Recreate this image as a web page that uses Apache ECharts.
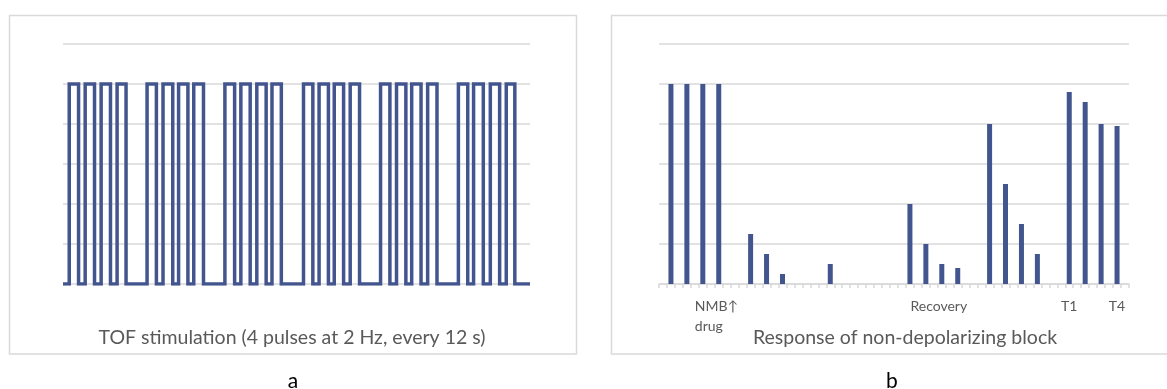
<!DOCTYPE html>
<html>
<head>
<meta charset="utf-8">
<script src="https://cdn.jsdelivr.net/npm/echarts@6/dist/echarts.min.js"></script>
<style>
  html, body { margin: 0; padding: 0; background: #fff; }
  #chart { width: 1167px; height: 389px; }
</style>
</head>
<body>
<div id="chart"></div>
<script>
// Panel a: train-of-four stimulation, rising and falling edge times of each pulse
const pulseRise = [0.8, 2.85, 4.9, 6.95,
                   10.8, 12.85, 14.85, 16.8,
                   20.8, 22.85, 24.9, 26.85,
                   30.9, 32.9, 34.85, 36.9,
                   40.8, 42.85, 44.8, 46.85,
                   50.8, 52.75, 54.9, 56.95];
const pulseFall = [2.0, 4.05, 6.1, 8.1,
                   12.0, 14.1, 16.05, 18.05,
                   22.05, 24.05, 26.1, 28.05,
                   32.1, 34.1, 36.05, 38.1,
                   42.0, 44.05, 46.0, 48.05,
                   52.0, 54.0, 56.1, 58.05];
const stimLevel = 100;
const timeRange = [0, 60];

// Panel b: twitch height (% of control) in each time slot
const twitch = [
  null, 100, null, 100, null, 100, null, 100,
  null, null, null, 25, null, 15, null, 5,
  null, null, null, null, null, 10, null, null,
  null, null, null, null, null, null, null, 40,
  null, 20, null, 10, null, 8, null, null,
  null, 80, null, 50, null, 30, null, 15,
  null, null, null, 96, null, 91, null, 80,
  null, 79, null
];
// Slot labels shown under the axis
const slotLabels = { 4: 'NMB\u2191\ndrug', 35: 'Recovery', 51: 'T1', 57: 'T4' };

const panelTitles = ['TOF stimulation (4 pulses at 2 Hz, every 12 s)', 'Response of non-depolarizing block'];
const panelLetters = ['a', 'b'];

const BLUE = '#43558E';
const GRID = '#D9D9D9';
const TEXT = '#595959';
const FONT = 'Lato, "Open Sans", sans-serif';

// Step waveform from the pulse edges
const wave = [[timeRange[0], 0]];
for (let i = 0; i < pulseRise.length; i++) {
  wave.push([pulseRise[i], 0], [pulseRise[i], stimLevel], [pulseFall[i], stimLevel], [pulseFall[i], 0]);
}
wave.push([timeRange[1], 0]);

const categories = twitch.map((_, i) => {
  const label = slotLabels[i];
  if (label === undefined) return '';
  if (i === 4) return { value: label, textStyle: { align: 'left' } };
  if (i === 35) return { value: label, textStyle: { padding: [0, 6, 0, 0] } };
  return label;
});

const chart = echarts.init(document.getElementById('chart'), null, { renderer: 'canvas' });

chart.setOption({
  animation: false,
  backgroundColor: '#fff',
  grid: [
    { left: 63, top: 44, width: 467, height: 240, containLabel: false },
    { left: 659, top: 44, width: 470, height: 240, containLabel: false }
  ],
  xAxis: [
    {
      gridIndex: 0, type: 'value', min: timeRange[0], max: timeRange[1],
      axisLine: { show: false }, axisTick: { show: false }, axisLabel: { show: false },
      splitLine: { show: false }
    },
    {
      gridIndex: 1, type: 'category', data: categories, boundaryGap: true,
      axisLine: { show: true, lineStyle: { color: GRID, width: 1.5 } },
      axisTick: { show: true, interval: 0, length: 4, lineStyle: { color: GRID, width: 1.5 } },
      axisLabel: {
        interval: 0, color: TEXT, fontFamily: FONT, fontSize: 14, lineHeight: 20, margin: 12
      },
      splitLine: { show: false }
    }
  ],
  yAxis: [0, 1].map(g => ({
    gridIndex: g, type: 'value', min: 0, max: 120, interval: 20,
    axisLine: { show: false }, axisTick: { show: false }, axisLabel: { show: false },
    splitLine: { show: true, lineStyle: { color: GRID, width: 1.5 } }
  })),
  series: [
    {
      type: 'line', xAxisIndex: 0, yAxisIndex: 0, data: wave,
      showSymbol: false, symbol: 'none',
      lineStyle: { color: BLUE, width: 3.5, join: 'miter' }
    },
    {
      type: 'bar', xAxisIndex: 1, yAxisIndex: 1, data: twitch,
      barWidth: 5, itemStyle: { color: BLUE }
    }
  ],
  graphic: [
    { type: 'rect', shape: { x: 9.5, y: 15.5, width: 567, height: 338.5 },
      style: { fill: 'none', stroke: GRID, lineWidth: 1.5 } },
    { type: 'rect', shape: { x: 611.5, y: 15.5, width: 580, height: 338.5 },
      style: { fill: 'none', stroke: GRID, lineWidth: 1.5 } },
    { type: 'text', x: 292, y: 338, style: { text: panelTitles[0], fill: TEXT, font: '19.5px ' + FONT, textAlign: 'center', textVerticalAlign: 'middle' } },
    { type: 'text', x: 905, y: 338, style: { text: panelTitles[1], fill: TEXT, font: '19.5px ' + FONT, textAlign: 'center', textVerticalAlign: 'middle' } },
    { type: 'text', x: 293, y: 381, style: { text: panelLetters[0], fill: '#000', font: '21px ' + FONT, textAlign: 'center', textVerticalAlign: 'middle' } },
    { type: 'text', x: 892, y: 381, style: { text: panelLetters[1], fill: '#000', font: '21px ' + FONT, textAlign: 'center', textVerticalAlign: 'middle' } }
  ]
});
</script>
</body>
</html>
